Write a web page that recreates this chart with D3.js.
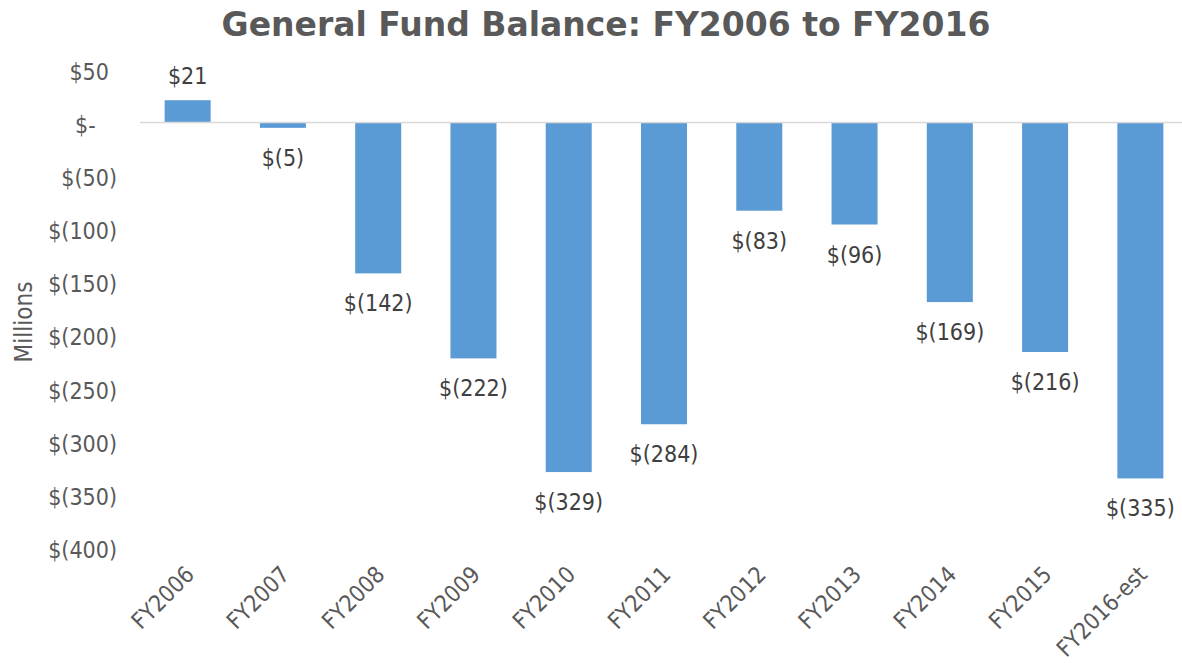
<!DOCTYPE html>
<html lang="en">
<head>
<meta charset="UTF-8" />
<title>General Fund Balance</title>
<script src="https://cdn.jsdelivr.net/npm/d3@7"></script>
<style>
  * { margin: 0; padding: 0; box-sizing: border-box; }
  body { background: #fff; }
  .title { font-family: 'DejaVu Sans', sans-serif; font-weight: bold; font-size: 33px; fill: #595959; }
  .tick text, .xlab, .ytitle { font-family: 'DejaVu Sans Condensed', 'DejaVu Sans', sans-serif; font-size: 23px; fill: #595959; }
  .ytitle { font-size: 24px; }
  .val { font-family: 'DejaVu Sans Condensed', 'DejaVu Sans', sans-serif; font-size: 23px; fill: #404040; }
  .bar { fill: #5b9bd5; }
  .zero { stroke: #d9d9d9; stroke-width: 1.5px; }
</style>
</head>
<body>
<svg id="chart" width="1182" height="663"></svg>
<script>
  // values in $ millions
  const years = ['FY2006', 'FY2007', 'FY2008', 'FY2009', 'FY2010', 'FY2011',
    'FY2012', 'FY2013', 'FY2014', 'FY2015', 'FY2016-est'];
  const balance = [21, -5, -142, -222, -329, -284, -83, -96, -169, -216, -335];
  const yTicks = [50, 0, -50, -100, -150, -200, -250, -300, -350, -400];

  const svg = d3.select('#chart'),
    width = +svg.attr('width');

  const x = d3.scaleBand().domain(years).range([140, 1188]);
  const y = d3.scaleLinear().domain([-400, 50]).range([547.5, 69.4]);
  const barW = x.bandwidth() * 0.483;

  function money(v) {
    if (v === 0) return '$-';
    if (v < 0) return '$(' + Math.abs(v) + ')';
    return '$' + v;
  }

  svg.append('text').attr('class', 'title')
    .attr('x', 606).attr('y', 36)
    .attr('text-anchor', 'middle')
    .text('General Fund Balance: FY2006 to FY2016');

  // y axis, labels only
  const yAxis = svg.append('g')
    .attr('transform', 'translate(117,0)')
    .call(d3.axisLeft(y).tickValues(yTicks).tickSize(0).tickPadding(0).tickFormat(money));
  yAxis.select('.domain').remove();
  yAxis.selectAll('.tick text')
    .attr('dy', '0.43em')
    .attr('dx', d => d > 0 ? '-0.351em' : d === 0 ? '-0.924em' : 0)
    .attr('fill', null);

  svg.append('text').attr('class', 'ytitle')
    .attr('transform', 'translate(32,' + 322 + ') rotate(-90)')
    .attr('text-anchor', 'middle')
    .text('Millions');

  svg.selectAll('.bar').data(balance).join('rect')
    .attr('class', 'bar')
    .attr('x', (d, i) => x(years[i]) + (x.bandwidth() - barW) / 2)
    .attr('width', barW)
    .attr('y', d => y(Math.max(0, d)))
    .attr('height', d => Math.abs(y(d) - y(0)));

  svg.append('line').attr('class', 'zero')
    .attr('x1', 140).attr('x2', width)
    .attr('y1', y(0)).attr('y2', y(0));

  svg.selectAll('.val').data(balance).join('text')
    .attr('class', 'val')
    .attr('x', (d, i) => x(years[i]) + x.bandwidth() / 2)
    .attr('y', d => d >= 0 ? y(d) - 16 : y(d) + 38)
    .attr('text-anchor', 'middle')
    .text(money);

  svg.selectAll('.xlab').data(years).join('text')
    .attr('class', 'xlab')
    .attr('text-anchor', 'end')
    .attr('transform', d => 'translate(' + (x(d) + x.bandwidth() / 2 + 8) + ',576) rotate(-45)')
    .text(d => d);
</script>
</body>
</html>
